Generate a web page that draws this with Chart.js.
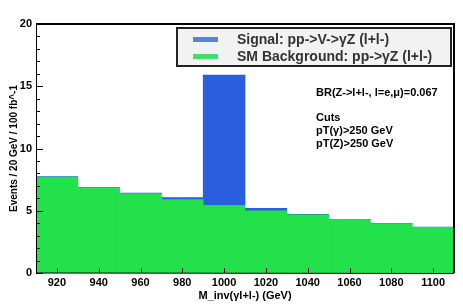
<!DOCTYPE html>
<html>
<head>
<meta charset="utf-8">
<script src="https://cdn.jsdelivr.net/npm/chart.js@4"></script>
<style>
  html, body { margin: 0; padding: 0; background: #fff; }
  #wrap { position: relative; width: 463px; height: 304px; font-family: "Liberation Sans", Arial, sans-serif; }
  canvas { position: absolute; left: 0; top: 0; }
  .legend { position: absolute; left: 176px; top: 27px; width: 272px; height: 36px; background: #f2f2f2; border: 2px solid #222; }
  .row { position: absolute; left: 0; height: 16px; font-weight: bold; font-size: 14px; color: #333; line-height: 16px; white-space: nowrap; }
  .sw { position: absolute; left: 15px; top: 6px; width: 25px; height: 5px; }
  .row span { position: absolute; left: 59px; top: 0; }
  .note { position: absolute; left: 316px; font-weight: bold; font-size: 11px; color: #000; line-height: 12px; white-space: nowrap; }
</style>
</head>
<body>
<div id="wrap">
  <canvas id="c" width="463" height="304"></canvas>
  <div class="legend">
    <div class="row" style="top:2px"><div class="sw" style="background:#5a7fe2"></div><span id="lg0"></span></div>
    <div class="row" style="top:19px"><div class="sw" style="background:#44dd66"></div><span id="lg1"></span></div>
  </div>
  <div class="note" style="top:86px">BR(Z-&gt;l+l-, l=e,μ)=0.067</div>
  <div class="note" style="top:111px">Cuts</div>
  <div class="note" style="top:124px">pT(γ)&gt;250 GeV</div>
  <div class="note" style="top:137px">pT(Z)&gt;250 GeV</div>
</div>
<script>
// bin centres (GeV), 20 GeV wide bins from 910 to 1110
const binCenters = [920, 940, 960, 980, 1000, 1020, 1040, 1060, 1080, 1100];
const background = [7.70, 6.86, 6.38, 5.90, 5.42, 5.00, 4.68, 4.30, 3.97, 3.67];
const signal     = [0.04, 0.03, 0.03, 0.16, 10.48, 0.20, 0.03, 0.02, 0.02, 0.01];
const yTicks = [0, 5, 10, 15, 20];
const labels = ["Signal: pp->V->\u03b3Z (l+l-)", "SM Background: pp->\u03b3Z (l+l-)"];

document.getElementById("lg0").textContent = labels[0];
document.getElementById("lg1").textContent = labels[1];

const boldFont = size => ({ family: "'Liberation Sans', Arial, sans-serif", size, weight: "bold" });

// ROOT-style inside ticks + frame
const frame = {
  id: "frame",
  afterDatasetsDraw(chart) {
    const { ctx, chartArea: a, scales: { x, y } } = chart;
    ctx.save();
    ctx.strokeStyle = "#000";
    ctx.lineWidth = 1;
    ctx.beginPath();
    for (let v = 0; v <= 20; v++) {
      const py = Math.round(y.getPixelForValue(v)) + 0.5;
      const len = v % 5 === 0 ? 7 : 4;
      ctx.moveTo(a.left, py); ctx.lineTo(a.left + len, py);
    }
    binCenters.forEach((c, i) => {
      const px = Math.round(x.getPixelForValue(i)) + 0.5;
      ctx.moveTo(px, a.bottom); ctx.lineTo(px, a.bottom - 5);
    });
    ctx.stroke();
    ctx.beginPath();
    ctx.moveTo(a.left + 0.5, a.top); ctx.lineTo(a.left + 0.5, a.bottom);
    ctx.lineTo(a.right, a.bottom + 0.5);
    ctx.stroke();
    ctx.lineWidth = 2;
    ctx.beginPath();
    ctx.moveTo(a.left, a.top); ctx.lineTo(a.right, a.top); ctx.lineTo(a.right, a.bottom);
    ctx.stroke();
    ctx.restore();
  }
};

new Chart(document.getElementById("c"), {
  type: "bar",
  data: {
    labels: binCenters.map(String),
    datasets: [
      { label: labels[1], data: background, backgroundColor: "#22e14b", borderWidth: 0, barPercentage: 1, categoryPercentage: 1, stack: "s" },
      { label: labels[0], data: signal, backgroundColor: "#2b5de1", borderWidth: 0, barPercentage: 1, categoryPercentage: 1, stack: "s" }
    ]
  },
  options: {
    responsive: false,
    animation: false,
    layout: { padding: { top: 24, right: 9, left: 0, bottom: 0 } },
    plugins: { legend: { display: false }, tooltip: { enabled: false } },
    scales: {
      x: {
        stacked: true,
        grid: { display: false, drawTicks: false },
        border: { display: false },
        ticks: { color: "#000", font: boldFont(11), padding: 3, maxRotation: 0 },
        title: { display: true, text: "M_inv(\u03b3l+l-) (GeV)", color: "#000", font: boldFont(11), padding: { top: 0, bottom: 1 } },
        afterFit: s => { s.height = 31; }
      },
      y: {
        stacked: true,
        min: 0, max: 20,
        afterBuildTicks: s => { s.ticks = yTicks.map(v => ({ value: v })); },
        grid: { display: false, drawTicks: false },
        border: { display: false },
        ticks: { color: "#000", font: boldFont(11), padding: 4 },
        title: { display: true, text: "Events / 20 GeV / 100 fb^-1", color: "#000", font: boldFont(10), padding: { top: 8, bottom: 0 } },
        afterFit: s => { s.width = 36; }
      }
    }
  },
  plugins: [frame]
});
</script>
</body>
</html>
